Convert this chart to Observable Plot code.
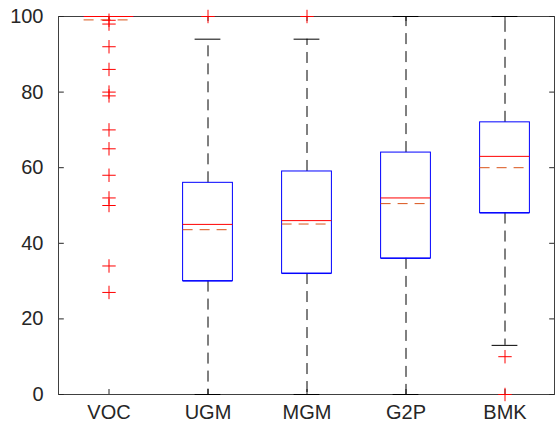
<!DOCTYPE html>
<html>
<head>
<meta charset="utf-8">
<script src="https://cdn.jsdelivr.net/npm/d3@7"></script>
<script src="https://cdn.jsdelivr.net/npm/@observablehq/plot@0.6"></script>
<style>
  html, body { margin: 0; padding: 0; background: white; }
  #chart svg { display: block; }
</style>
</head>
<body>
<div id="chart"></div>
<script>
const categories = ["VOC", "UGM", "MGM", "G2P", "BMK"];
const q1 = [100, 30, 32, 36, 48];
const q3 = [100, 56, 59, 64, 72];
const medians = [100, 45, 46, 52, 63];
const means = [99.1, 43.6, 45.1, 50.5, 60];
const whiskerLow = [100, 0, 0, 0, 13];
const whiskerHigh = [100, 94, 94, 100, 100];
const outlierCats = ["VOC","VOC","VOC","VOC","VOC","VOC","VOC","VOC","VOC","VOC","VOC","VOC","VOC","UGM","MGM","BMK","BMK"];
const outlierValues = [99, 98, 92, 86, 80, 79, 70, 65, 58, 52, 50, 34, 27, 100, 100, 10, 0];
const yTicks = [0, 20, 40, 60, 80, 100];

const boxes = categories.map((c, i) => ({
  cat: c, q1: q1[i], q3: q3[i], med: medians[i], mean: means[i],
  lo: whiskerLow[i], hi: whiskerHigh[i]
}));
const outliers = outlierCats.map((c, i) => ({cat: c, value: outlierValues[i]}));

const W = 555, H = 423;
const mL = 58, mR = 1, mT = 16, mB = 29;
const bandW = (W - mL - mR) / categories.length;
const plotH = H - mT - mB;
const boxInset = (bandW - 50) / 2;
const capInset = (bandW - 26) / 2;
const tickLen = 5;
const axisColor = "#262626";
const fontSize = 20;

const chart = Plot.plot({
  width: W, height: H,
  marginLeft: mL, marginRight: mR, marginTop: mT, marginBottom: mB,
  style: {fontFamily: "'Liberation Sans', Arial, Helvetica, sans-serif", fontSize: fontSize + "px", color: axisColor, background: "white"},
  x: {domain: categories, padding: 0, label: null},
  y: {domain: [0, 100], label: null},
  marks: [
    Plot.frame({stroke: "#404040"}),
    Plot.axisX({tickSize: 0, tickPadding: 10, label: null, fontSize: fontSize, fill: axisColor}),
    Plot.axisY({ticks: yTicks, tickSize: 0, tickPadding: 15, label: null, fontSize: fontSize, fill: axisColor}),
    // inward ticks on all four sides
    Plot.tickY(yTicks, {y: d => d, x: () => categories[0], insetRight: bandW - tickLen, stroke: axisColor}),
    Plot.tickY(yTicks, {y: d => d, x: () => categories[categories.length - 1], insetLeft: bandW - tickLen, stroke: axisColor}),
    Plot.tickX(categories, {x: d => d, insetTop: plotH - tickLen, stroke: axisColor}),
    Plot.tickX(categories, {x: d => d, insetBottom: plotH - tickLen, stroke: axisColor}),
    // whiskers
    Plot.ruleX(boxes, {x: "cat", y1: "q3", y2: "hi", stroke: "black", strokeDasharray: "11,7"}),
    Plot.ruleX(boxes, {x: "cat", y1: "q1", y2: "lo", stroke: "black", strokeDasharray: "11,7"}),
    Plot.tickY(boxes, {x: "cat", y: "hi", stroke: "black", insetLeft: capInset, insetRight: capInset}),
    Plot.tickY(boxes, {x: "cat", y: "lo", stroke: "black", insetLeft: capInset, insetRight: capInset}),
    // boxes
    Plot.barY(boxes, {x: "cat", y1: "q1", y2: "q3", fill: "none", stroke: "blue", insetLeft: boxInset, insetRight: boxInset}),
    Plot.tickY(boxes, {x: "cat", y: "q1", stroke: "blue", insetLeft: boxInset, insetRight: boxInset}),
    // mean and median
    Plot.tickY(boxes, {x: "cat", y: "mean", stroke: "#D95319", strokeDasharray: "10,7", insetLeft: boxInset, insetRight: boxInset}),
    Plot.tickY(boxes, {x: "cat", y: "med", stroke: "red", insetLeft: boxInset, insetRight: boxInset}),
    // outliers
    Plot.dot(outliers, {x: "cat", y: "value", symbol: "plus", stroke: "red", r: 4.4, strokeWidth: 1})
  ]
});
document.getElementById("chart").appendChild(chart);
</script>
</body>
</html>
